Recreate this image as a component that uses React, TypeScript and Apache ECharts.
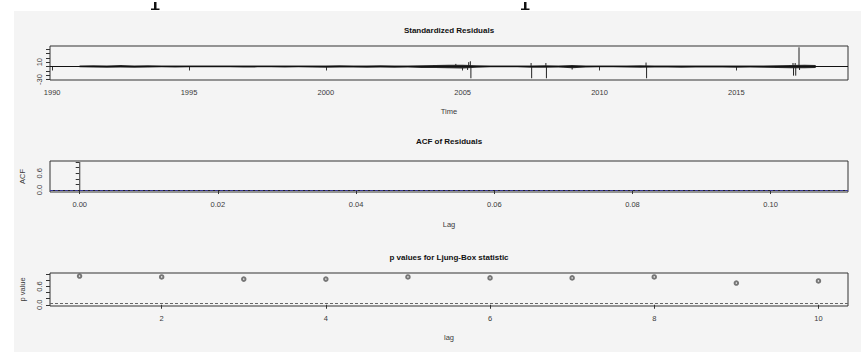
import React, { useEffect, useRef } from "react";
import * as echarts from "echarts";

// ---- Panel 1: standardized residuals ----
const tsTicks = [1990, 1995, 2000, 2005, 2010, 2015];
const residTicks = [-30, -20, -10, 0, 10, 20, 30, 40];
const residLabels = [-30, 10];
const bandYears = [
  1991.0, 1991.5, 1992.0, 1992.5, 1993.0, 1993.5, 1994.0, 1994.5, 1995.0, 1995.5,
  1996.0, 1996.5, 1997.0, 1997.5, 1998.0, 1998.5, 1999.0, 1999.5, 2000.0, 2000.5,
  2001.0, 2001.5, 2002.0, 2002.5, 2003.0, 2003.5, 2004.0, 2004.5, 2005.0, 2005.5,
  2006.0, 2006.5, 2007.0, 2007.5, 2008.0, 2008.5, 2009.0, 2009.5, 2010.0, 2010.5,
  2011.0, 2011.5, 2012.0, 2012.5, 2013.0, 2013.5, 2014.0, 2014.5, 2015.0, 2015.5,
  2016.0, 2016.5, 2017.0, 2017.5, 2017.9,
];
const bandHigh = [
  2.5, 3, 2.5, 3.5, 2.5, 3, 2, 2.5, 2, 2.5,
  2, 2.5, 2, 2.5, 2, 2, 2.5, 2.5, 2.5, 3,
  2, 2.5, 3, 2.5, 2.5, 3, 3.5, 4, 4, 3,
  2, 2, 2, 2.5, 3, 2, 3.5, 2, 2, 2,
  2.5, 3, 2, 2.5, 2.5, 2.5, 2, 2.5, 2.5, 2,
  2.5, 3, 3.5, 4, 3.5,
];
const bandLow = [
  -2, -2.5, -3, -2.5, -3, -2.5, -2, -2.5, -2, -2,
  -2, -2, -2.5, -2, -2, -2.5, -2, -2.5, -3, -2.5,
  -2.5, -3, -2.5, -3, -2.5, -3.5, -3.5, -4, -4.5, -3,
  -2, -2, -2, -3, -3, -2.5, -4, -2.5, -2, -2,
  -2.5, -3, -2.5, -2.5, -3, -2.5, -2.5, -2.5, -3, -2.5,
  -3, -3.5, -4, -4, -3.5,
];
const spikeYears = [
  2004.75, 2005.18, 2005.22, 2005.28, 2005.3, 2007.5, 2007.52, 2008.04, 2008.06,
  2009.0, 2011.7, 2011.72, 2017.07, 2017.09, 2017.15, 2017.17, 2017.29, 2017.31,
];
const spikeValues = [
  6, -8, 10, 12, -27, 8, -27, 8, -27,
  -7, 9, -27, 8, -21, 8, -21, 44, -8,
];

// ---- Panel 2: ACF of residuals ----
const acfLags = [0];
const acfValues = [1];
const acfCi = 0.015;
const acfTicks = [0, 0.02, 0.04, 0.06, 0.08, 0.1];
const unitTicks = [0, 0.2, 0.4, 0.6, 0.8, 1.0];
const unitLabels = [0, 0.6];

// ---- Panel 3: Ljung-Box p values ----
const lbLags = [1, 2, 3, 4, 5, 6, 7, 8, 9, 10];
const lbPValues = [0.94, 0.91, 0.84, 0.84, 0.91, 0.88, 0.88, 0.91, 0.71, 0.78];
const lbTicks = [2, 4, 6, 8, 10];
const lbLevel = 0.05;

const FONT = "'Liberation Sans', Arial, sans-serif";
const LABEL = { fontSize: 7.5, color: "#3a3a3a", fontFamily: FONT };

function xAxisBase(grid: number, min: number, max: number, ticks: number[], name: string, fmt?: (v: number) => string) {
  return {
    type: "value",
    gridIndex: grid,
    min,
    max,
    splitLine: { show: false },
    axisLine: { show: false },
    axisTick: { show: true, customValues: ticks, length: 4, lineStyle: { color: "#333", width: 1 } },
    axisLabel: { ...LABEL, customValues: ticks, margin: 8, formatter: fmt || ((v: number) => String(v)) },
    name,
    nameLocation: "middle",
    nameGap: 27,
    nameTextStyle: { ...LABEL },
  };
}

function yAxisBase(grid: number, min: number, max: number, ticks: number[], labels: number[], name: string, fmt: (v: number) => string) {
  return {
    type: "value",
    gridIndex: grid,
    min,
    max,
    splitLine: { show: false },
    axisLine: { show: false },
    axisTick: { show: true, customValues: ticks, length: 4, lineStyle: { color: "#333", width: 1 } },
    axisLabel: { ...LABEL, customValues: labels, rotate: 90, margin: 7, formatter: fmt },
    name,
    nameLocation: "middle",
    nameGap: 24,
    nameRotate: 90,
    nameTextStyle: { ...LABEL },
  };
}

const gridStyle = { show: true, borderColor: "#333", borderWidth: 1, backgroundColor: "transparent", left: 50, right: 13 };

export default function App() {
  const ref = useRef<HTMLDivElement>(null);
  useEffect(() => {
    if (!ref.current) return;
    const chart = echarts.init(ref.current, null, { renderer: "svg" });
    const titleStyle = { fontSize: 8, fontWeight: "bold", color: "#111", fontFamily: FONT };
    const option: any = {
      animation: false,
      backgroundColor: "#ffffff",
      title: [
        { text: "Standardized Residuals", left: 449, top: 26, textAlign: "center", padding: 0, textStyle: titleStyle },
        { text: "ACF of Residuals", left: 449, top: 137, textAlign: "center", padding: 0, textStyle: titleStyle },
        { text: "p values for Ljung-Box statistic", left: 449, top: 253, textAlign: "center", padding: 0, textStyle: titleStyle },
      ],
      graphic: [
        { type: "rect", z: -10, silent: true, shape: { x: 14, y: 11, width: 847, height: 341 }, style: { fill: "#f4f4f4" } },
        { type: "rect", silent: true, shape: { x: 154, y: 2, width: 2.5, height: 8 }, style: { fill: "#111" } },
        { type: "rect", silent: true, shape: { x: 151, y: 8.5, width: 8.5, height: 1.5 }, style: { fill: "#111" } },
        { type: "rect", silent: true, shape: { x: 524, y: 2, width: 2.5, height: 8 }, style: { fill: "#111" } },
        { type: "rect", silent: true, shape: { x: 521, y: 8.5, width: 8.5, height: 1.5 }, style: { fill: "#111" } },
      ],
      grid: [
        { ...gridStyle, top: 46, height: 34 },
        { ...gridStyle, top: 161, height: 31 },
        { ...gridStyle, top: 273, height: 33 },
      ],
      xAxis: [
        xAxisBase(0, 1989.92, 2019.08, tsTicks, "Time"),
        { ...xAxisBase(1, -0.0043, 0.1112, acfTicks, "Lag", (v: number) => v.toFixed(2)), nameGap: 28 },
        xAxisBase(2, 0.64, 10.36, lbTicks, "lag"),
      ],
      yAxis: [
        yAxisBase(0, -31, 47, residTicks, residLabels, "", (v: number) => String(v)),
        yAxisBase(1, -0.07, 1.04, unitTicks, unitLabels, "ACF", (v: number) => v.toFixed(1)),
        yAxisBase(2, -0.04, 1.04, unitTicks, unitLabels, "p value", (v: number) => v.toFixed(1)),
      ],
      series: [
        {
          type: "custom",
          xAxisIndex: 0,
          yAxisIndex: 0,
          silent: true,
          data: [[bandYears[0], 0]],
          renderItem: (_p: any, api: any) => {
            const up = bandYears.map((x, i) => api.coord([x, bandHigh[i]]));
            const dn = bandYears.map((x, i) => api.coord([x, bandLow[i]])).reverse();
            return { type: "polygon", shape: { points: up.concat(dn) }, style: { fill: "#2a2a2a" } };
          },
        },
        {
          type: "custom",
          xAxisIndex: 0,
          yAxisIndex: 0,
          silent: true,
          data: spikeYears.map((x, i) => [x, spikeValues[i]]),
          encode: { x: 0, y: 1 },
          renderItem: (_p: any, api: any) => {
            const x = api.value(0);
            const v = api.value(1);
            const a = api.coord([x, 0]);
            const b = api.coord([x, v]);
            return { type: "line", shape: { x1: a[0], y1: a[1], x2: b[0], y2: b[1] }, style: { stroke: "#222", lineWidth: 1 } };
          },
          markLine: {
            silent: true,
            symbol: "none",
            label: { show: false },
            lineStyle: { color: "#111", width: 1, type: "solid" },
            data: [{ yAxis: 0 }],
          },
        },
        {
          type: "custom",
          xAxisIndex: 1,
          yAxisIndex: 1,
          silent: true,
          data: acfLags.map((x, i) => [x, acfValues[i]]),
          encode: { x: 0, y: 1 },
          renderItem: (_p: any, api: any) => {
            const x = api.value(0);
            const v = api.value(1);
            const a = api.coord([x, 0]);
            const b = api.coord([x, v]);
            return { type: "line", shape: { x1: a[0], y1: a[1], x2: b[0], y2: b[1] }, style: { stroke: "#555", lineWidth: 1.2 } };
          },
          markLine: {
            silent: true,
            symbol: "none",
            label: { show: false },
            data: [
              { yAxis: 0, lineStyle: { color: "#222", width: 1, type: "solid" } },
              { yAxis: acfCi, lineStyle: { color: "#3a3a9a", width: 1, type: [3, 2] } },
              { yAxis: -acfCi, lineStyle: { color: "#3a3a9a", width: 1, type: [3, 2] } },
            ],
          },
        },
        {
          type: "scatter",
          xAxisIndex: 2,
          yAxisIndex: 2,
          silent: true,
          symbol: "emptyCircle",
          symbolSize: 3.5,
          itemStyle: { color: "#555", borderColor: "#555", borderWidth: 0.9 },
          data: lbLags.map((x, i) => [x, lbPValues[i]]),
          markLine: {
            silent: true,
            symbol: "none",
            label: { show: false },
            lineStyle: { color: "#666", width: 1, type: [3, 2] },
            data: [{ yAxis: lbLevel }],
          },
        },
      ],
    };
    chart.setOption(option);
    return () => chart.dispose();
  }, []);
  return <div ref={ref} style={{ position: "fixed", left: 0, top: 0, width: 861, height: 352 }} />;
}
